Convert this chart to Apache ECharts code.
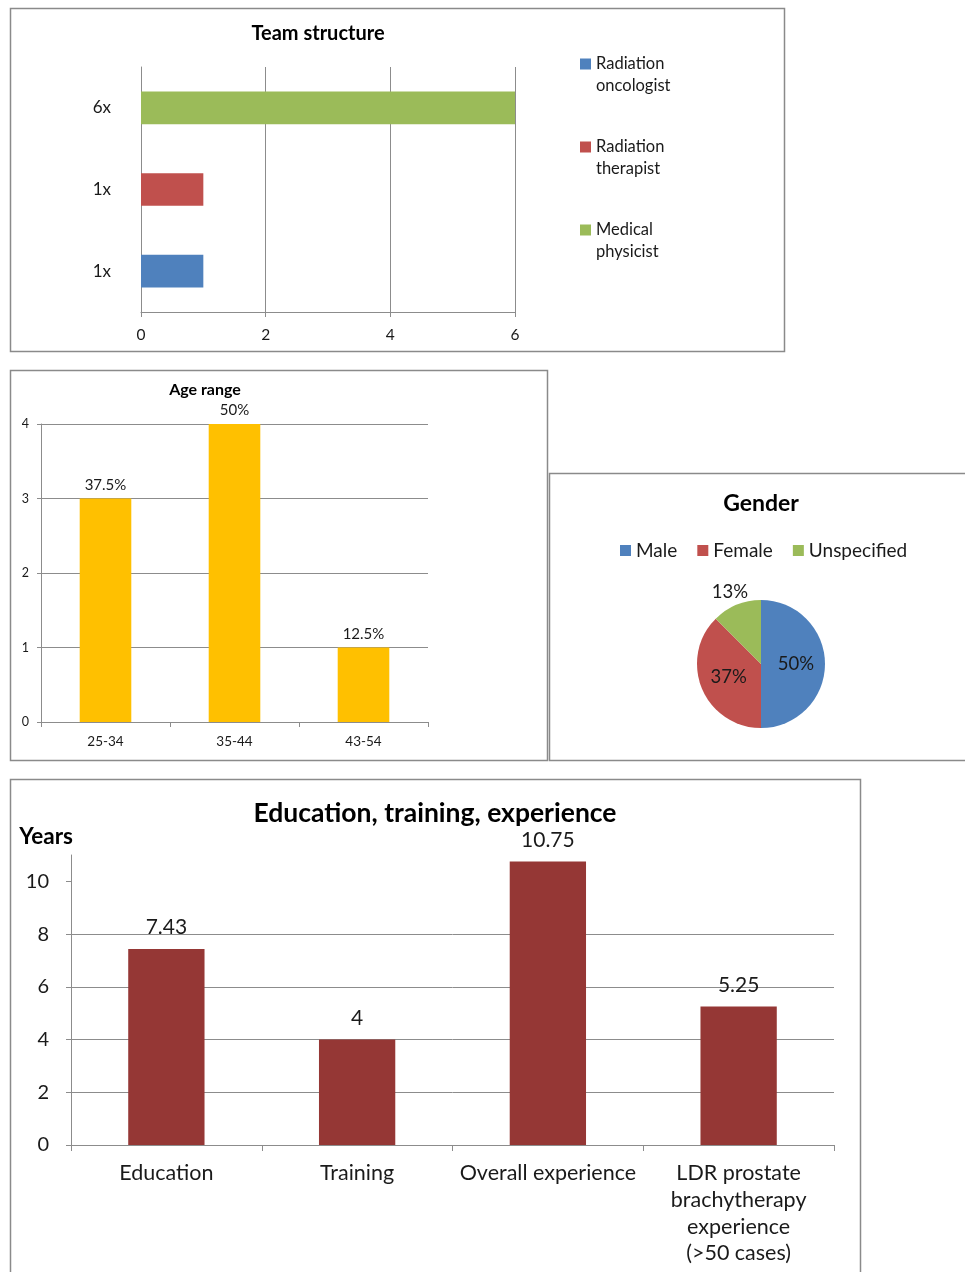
<!DOCTYPE html>
<html><head><meta charset="utf-8">
<script src="https://cdn.jsdelivr.net/npm/echarts@6/dist/echarts.min.js"></script>
<style>html,body{margin:0;padding:0;background:#fff}#c{width:965px;height:1272px}</style>
</head><body><div id="c"></div>
<script>
// ---- data ----
const teamRoles = ['Radiation oncologist', 'Radiation therapist', 'Medical physicist'];
const teamCounts = [1, 1, 6];
const teamCountLabels = ['1x', '1x', '6x'];
const teamColors = ['#4F81BD', '#C0504D', '#9BBB59'];

const ageCategories = ['25-34', '35-44', '43-54'];
const ageCounts = [3, 4, 1];
const agePercentLabels = ['37.5%', '50%', '12.5%'];

const genderNames = ['Male', 'Female', 'Unspecified'];
const genderCounts = [4, 3, 1];
const genderPercentLabels = ['50%', '37%', '13%'];
const genderColors = ['#4F81BD', '#C0504D', '#9BBB59'];

const eduCategories = ['Education', 'Training', 'Overall experience', 'LDR prostate\nbrachytherapy\nexperience\n(>50 cases)'];
const eduYears = [7.43, 4, 10.75, 5.25];
const eduTicks = [0, 2, 4, 6, 8, 10];

// ---- styling ----
const FONT = 'Lato';
const GRID = '#8c8c8c';
const TXT = '#1a1a1a';

const chart = echarts.init(document.getElementById('c'), null, {renderer: 'canvas'});

function border(x, y, w, h) {
  return {type: 'rect', silent: true, shape: {x: x, y: y, width: w, height: h},
    style: {fill: 'none', stroke: '#8a8a8a', lineWidth: 1.5}};
}
function titleText(t, x, y, size) {
  return {type: 'text', silent: true, x: x, y: y,
    style: {text: t, fontFamily: FONT, fontWeight: 'bold', fontSize: size, fill: '#000', align: 'center', verticalAlign: 'middle'}};
}

const option = {
  animation: false,
  textStyle: {fontFamily: FONT},
  graphic: [
    border(10.5, 8.5, 774, 343),
    border(10.5, 370.5, 537, 390),
    border(549.5, 473.5, 430, 287),
    border(10.5, 779.5, 850, 510),
    titleText('Team structure', 318, 34, 20),
    titleText('Age range', 205, 390, 16),
    titleText('Gender', 761, 504, 23),
    titleText('Education, training, experience', 435, 813, 26.5)
  ],
  legend: [
    {
      data: teamRoles, orient: 'vertical', left: 580, top: 31, padding: 0,
      itemWidth: 11, itemHeight: 11, itemGap: 17, icon: 'rect', selectedMode: false,
      formatter: n => ' \n' + n.replace(' ', '\n'),
      textStyle: {fontFamily: FONT, fontSize: 16.5, lineHeight: 22, color: TXT}
    },
    {
      data: genderNames, orient: 'horizontal', left: 620, top: 541, padding: 0,
      itemWidth: 11, itemHeight: 11, itemGap: 20, icon: 'rect', selectedMode: false,
      textStyle: {fontFamily: FONT, fontSize: 19, color: TXT}
    }
  ],
  grid: [
    {left: 141, top: 67, width: 374, height: 245},
    {left: 41, top: 424, width: 387, height: 298},
    {left: 71, top: 855, width: 763, height: 290}
  ],
  xAxis: [
    {
      gridIndex: 0, type: 'value', min: 0, max: 6, interval: 2,
      axisLine: {show: true, lineStyle: {color: GRID}},
      axisTick: {show: true, length: 5, lineStyle: {color: GRID}},
      axisLabel: {fontSize: 15.5, margin: 15, color: TXT, fontFamily: FONT},
      splitLine: {show: true, lineStyle: {color: GRID}}
    },
    {
      gridIndex: 1, type: 'category', data: ageCategories,
      axisLine: {show: true, lineStyle: {color: GRID}},
      axisTick: {show: true, length: 5, lineStyle: {color: GRID}},
      axisLabel: {fontSize: 13.5, margin: 13, color: TXT, fontFamily: FONT}
    },
    {
      gridIndex: 2, type: 'category', data: eduCategories,
      axisLine: {show: true, lineStyle: {color: GRID}},
      axisTick: {show: true, length: 6, lineStyle: {color: GRID}},
      axisLabel: {fontSize: 21.5, lineHeight: 26.7, margin: 15, color: TXT, fontFamily: FONT, interval: 0}
    }
  ],
  yAxis: [
    {
      gridIndex: 0, type: 'category', data: teamRoles,
      axisLine: {show: true, lineStyle: {color: GRID}},
      axisTick: {show: false},
      axisLabel: {fontSize: 17, margin: 30, color: TXT, fontFamily: FONT, formatter: (v, i) => teamCountLabels[i]}
    },
    {
      gridIndex: 1, type: 'value', min: 0, max: 4, interval: 1,
      axisLine: {show: true, lineStyle: {color: GRID}},
      axisTick: {show: true, length: 4, lineStyle: {color: GRID}},
      axisLabel: {fontSize: 12.5, margin: 12, color: TXT, fontFamily: FONT},
      splitLine: {show: true, lineStyle: {color: GRID}}
    },
    {
      gridIndex: 2, type: 'value', min: 0, max: 11, interval: 2,
      name: 'Years', nameLocation: 'end', nameGap: 7,
      nameTextStyle: {fontFamily: FONT, fontWeight: 'bold', fontSize: 22.5, color: '#000', align: 'right', verticalAlign: 'bottom', padding: [0, -2, 0, 0]},
      axisLine: {show: true, lineStyle: {color: GRID}},
      axisTick: {show: true, length: 5, lineStyle: {color: GRID}, customValues: eduTicks},
      axisLabel: {fontSize: 20, margin: 22, color: TXT, fontFamily: FONT, customValues: eduTicks},
      splitLine: {show: true, showMaxLine: false, lineStyle: {color: GRID}}
    }
  ],
  series: [
    ...teamRoles.map((r, i) => ({
      type: 'bar', name: r, xAxisIndex: 0, yAxisIndex: 0, stack: 'team', barWidth: '40%',
      itemStyle: {color: teamColors[i]},
      data: teamCounts.map((v, j) => (j === i ? v : '-'))
    })),
    {
      type: 'bar', name: 'Age range', xAxisIndex: 1, yAxisIndex: 1, barWidth: '40%',
      itemStyle: {color: '#FFC000'}, data: ageCounts,
      label: {show: true, position: 'top', distance: 6, fontSize: 15, color: TXT, fontFamily: FONT,
        formatter: p => agePercentLabels[p.dataIndex]}
    },
    {
      type: 'pie', name: 'Gender', center: [761, 664], radius: 64, startAngle: 90, clockwise: true,
      avoidLabelOverlap: false,
      data: genderNames.map((n, i) => ({
        name: n, value: genderCounts[i], itemStyle: {color: genderColors[i]},
        label: i === 2 ? {position: 'outside', distanceToLabelLine: -17} : {position: 'inside'},
        labelLine: {show: false, length: 14, length2: 0}
      })),
      label: {fontSize: 18.5, color: TXT, fontFamily: FONT, formatter: p => genderPercentLabels[p.dataIndex]},
      labelLine: {show: false}
    },
    {
      type: 'bar', name: 'Years', xAxisIndex: 2, yAxisIndex: 2, barWidth: '40%',
      itemStyle: {color: '#953735'}, data: eduYears,
      label: {show: true, position: 'top', distance: 11, fontSize: 21, color: TXT, fontFamily: FONT}
    }
  ]
};
chart.setOption(option);
</script></body></html>
